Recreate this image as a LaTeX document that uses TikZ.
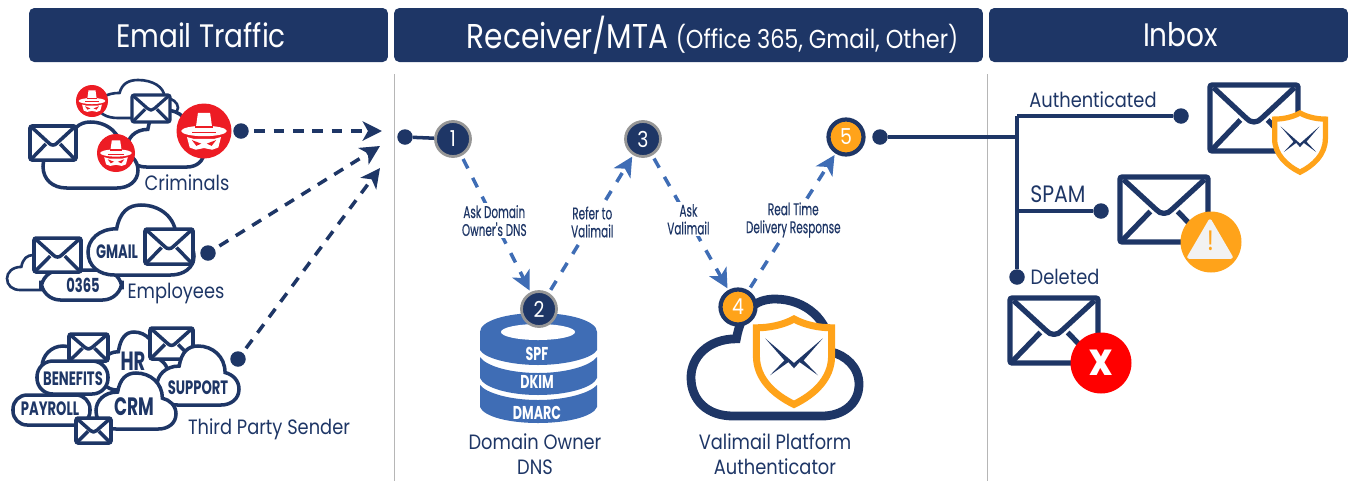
\documentclass[tikz,border=0pt]{standalone}
\usepackage{fontspec}
\setmainfont{Poppins}[FakeStretch=0.86]
\newfontfamily\tightfont{Poppins}[FakeStretch=0.68]
\newfontfamily\flowfont{Poppins}[FakeStretch=0.62,FakeBold=0.35]
\usetikzlibrary{arrows.meta}
\definecolor{Navy}{RGB}{30,54,102}
\definecolor{Flow}{RGB}{63,109,181}
\definecolor{Amber}{RGB}{255,163,26}
\definecolor{Spy}{RGB}{237,28,36}
\definecolor{Ring}{RGB}{150,150,150}
\tikzset{
  headbar/.style={fill=Navy, rounded corners=3pt, text=white, minimum height=1.08cm, inner sep=0pt, font=\fontsize{18.5}{18.5}\selectfont},
  navydot/.style={circle, fill=Navy, minimum size=0.31cm, inner sep=0pt},
  stepnum/.style={circle, fill=Navy, draw=Ring, line width=1.6pt, minimum size=0.70cm, inner sep=0pt, text=white, font=\fontsize{12.5}{12.5}\selectfont},
  stepamber/.style={stepnum, fill=Amber, draw=Navy, line width=2.4pt},
  sideline/.style={Ring!70, line width=0.8pt},
  trunk/.style={Navy, line width=2pt},
  threat/.style={Navy, line width=2pt, dash pattern=on 6pt off 5pt, shorten <=3pt, -{Stealth[length=11pt,width=11pt,inset=3pt]}},
  flowline/.style={Flow, line width=2pt, dash pattern=on 6pt off 6pt, shorten <=2pt, shorten >=1pt, -{Stealth[length=11pt,width=11pt,inset=3pt]}},
  flowlabel/.style={fill=white, text=Navy, align=center, inner sep=1pt, font=\flowfont\fontsize{9.6}{10.2}\selectfont},
  namelabel/.style={text=Navy, inner sep=0pt, font=\fontsize{11.8}{14.6}\selectfont, align=center},
  cloudtag/.style={text=Navy, inner sep=0pt, font=\tightfont\bfseries\fontsize{11}{11}\selectfont},
  disctag/.style={text=white, inner sep=0pt, font=\tightfont\bfseries\fontsize{10.6}{10.6}\selectfont},
}
\newcommand{\mailcloud}[5]{
  \pgfmathsetmacro{\cw}{#3-#1}
  \pgfmathsetmacro{\ch}{#4-#2}
  \begin{scope}[shift={(#1,#4)},xscale=\cw,yscale=-\ch]
    \draw[Navy, fill=white, line width=#5] (0.25,0) -- (0.78,0) .. controls (0.9,0) and (1,0.1) .. (1,0.27)
      .. controls (1,0.42) and (0.92,0.52) .. (0.83,0.55) .. controls (0.83,0.82) and (0.68,1) .. (0.5,1)
      .. controls (0.38,1) and (0.3,0.9) .. (0.27,0.66) .. controls (0.1,0.66) and (0,0.5) .. (0,0.33)
      .. controls (0,0.13) and (0.1,0) .. (0.25,0) -- cycle;
  \end{scope}
}
\newcommand{\mailicon}[5]{
  \pgfmathsetmacro{\mw}{#3-#1}
  \pgfmathsetmacro{\mh}{#4-#2}
  \begin{scope}[shift={(#1,#2)},xscale=\mw,yscale=\mh]
    \draw[Navy, fill=white, line width=#5, rounded corners=1.2pt] (0,0) rectangle (1,1);
    \draw[Navy, line width=#5, line join=round] (0.04,0.04) -- (0.41,0.5) .. controls (0.46,0.58) and (0.54,0.58) .. (0.59,0.5) -- (0.96,0.04);
    \draw[Navy, line width=#5] (0.03,0.97) -- (0.345,0.53) (0.97,0.97) -- (0.655,0.53);
  \end{scope}
}
\newcommand{\mailshield}[5]{
  \begin{scope}[shift={(#1,#2)},xscale=#3,yscale=#4]
    \draw[Amber, fill=white, line width=#5, line join=miter] (0,0) .. controls (0.14,0.07) and (0.32,0.1) .. (0.47,0.1)
      -- (0.47,0.42) .. controls (0.47,0.68) and (0.25,0.86) .. (0,0.97) .. controls (-0.25,0.86) and (-0.47,0.68) .. (-0.47,0.42)
      -- (-0.47,0.1) .. controls (-0.32,0.1) and (-0.14,0.07) .. (0,0) -- cycle;
    \fill[Navy] (-0.36,0.22) -- (0,0.5) -- (0.36,0.22) -- (0.12,0.47) -- (0.30,0.64) -- (0.07,0.49) -- (0,0.56)
      -- (-0.07,0.49) -- (-0.30,0.64) -- (-0.12,0.47) -- cycle;
  \end{scope}
}
\newcommand{\spyicon}[3]{
  \fill[Spy] (#1,#2) circle (#3);
  \begin{scope}[shift={(#1,#2)},scale=#3]
    \fill[white] (-0.22,-0.66) -- (0.22,-0.66) -- (0.3,-0.1) -- (-0.3,-0.1) -- cycle;
    \fill[white] (0,0) ellipse (0.83 and 0.19);
    \fill[Spy] (-0.32,-0.2) rectangle (0.32,-0.12);
    \fill[Spy] (-0.42,0.03) rectangle (0.42,0.09);
    \fill[white] (-0.62,0.22) -- (-0.36,0.29) -- (0.36,0.29) -- (0.62,0.22) -- (0.52,0.6) -- (0.3,0.68) -- (0,0.62) -- (-0.3,0.68) -- (-0.52,0.6) -- cycle;
    \fill[Spy] (-0.44,0.33) -- (-0.1,0.46) -- (-0.28,0.54) -- cycle (0.44,0.33) -- (0.1,0.46) -- (0.28,0.54) -- cycle;
  \end{scope}
}
\begin{document}
\begin{tikzpicture}[x=0.02cm,y=-0.02cm]
  \useasboundingbox (0,0) rectangle (1349,481);
  \node[headbar, minimum width=7.18cm] (hTraffic) at (208.5,35) {Email Traffic\hspace*{0.3cm}};
  \node[headbar, minimum width=11.78cm] (hReceiver) at (688.5,35) {\hspace*{0.96cm}{\fontsize{19.6}{19.6}\selectfont Receiver/MTA} {\fontsize{14.8}{14.8}\selectfont(Office 365, Gmail, Other)}};
  \node[headbar, minimum width=7.18cm] (hInbox) at (1168.5,35) {\hspace*{0.48cm}Inbox};
  \draw[sideline] (394.5,74) -- (394.5,481);
  \draw[sideline] (987.5,74) -- (987.5,481);

  \mailcloud{98}{80}{178}{118}{1.5pt}
  \mailcloud{127}{110}{204}{167}{2pt}
  \mailcloud{43}{122}{138}{188}{2pt}
  \mailicon{30}{126}{76}{160}{2pt}
  \mailicon{132}{95}{170}{122}{1.8pt}
  \spyicon{92}{101}{16}
  \spyicon{116}{153}{19}
  \spyicon{204}{131}{27.5}
  \node[namelabel] (lblCriminals) at (187,183) {Criminals};
  \node[navydot] (dotCriminals) at (241,131) {};

  \mailcloud{7}{255}{60}{290}{1.5pt}
  \draw[Navy, fill=white, line width=2pt, rounded corners=11pt] (41,270) rectangle (122,300);
  \node[cloudtag] (tag0365) at (83,285) {0365};
  \mailcloud{88}{205}{194}{275}{2pt}
  \mailicon{34}{238}{81}{272}{2pt}
  \mailicon{145}{229}{193}{264}{2pt}
  \node[cloudtag] (tagGmail) at (117,252) {GMAIL};
  \node[namelabel] (lblEmployees) at (176,294) {Employees};
  \node[navydot] (dotEmployees) at (208,253) {};

  \mailcloud{100}{332}{168}{390}{2pt}
  \draw[Navy, fill=white, line width=2pt] (63,367) circle (21);
  \draw[Navy, fill=white, line width=2pt, rounded corners=8pt] (13,395) rectangle (90,425);
  \draw[Navy, fill=white, line width=2pt, rounded corners=9pt] (37,361) rectangle (108,394);
  \mailicon{69}{334}{108}{361}{2pt}
  \mailicon{150}{328}{193}{359}{2pt}
  \mailcloud{157}{346}{239}{405}{2pt}
  \mailcloud{96}{373}{176}{429}{2pt}
  \mailicon{76}{418}{111}{443}{2pt}
  \node[cloudtag] (tagHr) at (133,361) {\fontsize{15}{15}\selectfont HR};
  \node[cloudtag] (tagBenefits) at (73,379) {BENEFITS};
  \node[cloudtag] (tagPayroll) at (50,409) {PAYROLL};
  \node[cloudtag] (tagCrm) at (134,407) {\fontsize{14.3}{14.3}\selectfont CRM};
  \node[cloudtag] (tagSupport) at (198,388) {SUPPORT};
  \node[namelabel] (lblThird) at (269,429) {Third Party Sender};
  \node[navydot] (dotThird) at (238,359) {};

  \coordinate (tipCriminals) at (382,131);
  \coordinate (tipEmployees) at (380,146);
  \coordinate (tipThird) at (380,168);
  \draw[threat] (dotCriminals) -- (tipCriminals);
  \draw[threat] (dotEmployees) -- (tipEmployees);
  \draw[threat] (dotThird) -- (tipThird);

  \fill[Flow] (480,332) -- (480,350) .. controls (484,358) and (510,365) .. (538,365) .. controls (566,365) and (593,358) .. (597,350) -- (597,332)
    .. controls (597,321) and (570,313) .. (538,313) .. controls (506,313) and (480,321) .. (480,332) -- cycle;
  \fill[white] (538,332) ellipse (37 and 8);
  \fill[Flow] (480,357) -- (480,378) .. controls (484,388) and (510,395) .. (538,395) .. controls (566,395) and (593,388) .. (597,378) -- (597,357)
    .. controls (590,366) and (566,373) .. (538,373) .. controls (510,373) and (486,366) .. (480,357) -- cycle;
  \fill[Flow] (480,385) -- (480,407) .. controls (484,417) and (510,423) .. (538,423) .. controls (566,423) and (593,417) .. (597,407) -- (597,385)
    .. controls (590,393) and (566,400) .. (538,400) .. controls (510,400) and (486,393) .. (480,385) -- cycle;
  \node[disctag] (tagSpf) at (537,354) {SPF};
  \node[disctag] (tagDkim) at (537,382) {DKIM};
  \node[disctag] (tagDmarc) at (537,413) {DMARC};
  \node[namelabel] (lblDomain) at (535,454) {Domain Owner\\DNS};

  \mailcloud{691}{299}{859}{416}{5pt}
  \mailshield{794}{319}{80}{88}{4pt}
  \node[namelabel] (lblValimail) at (775,454) {Valimail Platform\\Authenticator};

  \node[navydot] (dotStart) at (405,137) {};
  \node[stepnum] (stepOne) at (453,139) {1};
  \node[stepnum] (stepTwo) at (539,309) {2};
  \node[stepnum] (stepThree) at (643,139) {3};
  \node[stepamber] (stepFour) at (738,307) {4};
  \node[stepamber] (stepFive) at (846,137) {5};
  \node[navydot] (dotOut) at (880,137) {};
  \draw[trunk] (dotStart) -- (stepOne);
  \draw[flowline] (stepOne) -- node[flowlabel, pos=0.475] (askDomain) {Ask Domain\\Owner's DNS} (stepTwo);
  \draw[flowline] (stepTwo) -- node[flowlabel, pos=0.515] (referTo) {Refer to\\Valimail} (stepThree);
  \draw[flowline] (stepThree) -- node[flowlabel, pos=0.475] (askValimail) {Ask\\Valimail} (stepFour);
  \draw[flowline] (stepFour) -- node[flowlabel, pos=0.515] (realTime) {Real Time\\Delivery Response} (stepFive);

  \coordinate (jOut) at (1017,137);
  \coordinate (jTop) at (1017,116);
  \coordinate (jSpam) at (1017,211);
  \node[navydot] (dotAuth) at (1181,116) {};
  \node[navydot] (dotSpam) at (1101,211) {};
  \node[navydot] (dotDeleted) at (1017,277) {};
  \draw[trunk] (dotOut) -- (jOut);
  \draw[trunk] (jTop) -- (dotDeleted);
  \draw[trunk] (jTop) -- (dotAuth);
  \draw[trunk] (jSpam) -- (dotSpam);
  \node[namelabel] (lblAuth) at (1093,100) {Authenticated};
  \node[namelabel, font=\fontsize{13.5}{13.5}\selectfont] (lblSpam) at (1058,194) {SPAM};
  \node[namelabel] (lblDeleted) at (1065,277) {Deleted};

  \mailicon{1210}{85}{1298}{151}{3pt}
  \mailshield{1300}{113}{54}{61}{3pt}
  \mailicon{1120}{177}{1208}{242}{3pt}
  \node[circle, fill=Amber, minimum size=1.22cm, inner sep=0pt] (warnDisc) at (1211,242) {};
  \draw[fill=black!5, draw=black!5, line width=2pt, line join=round] (1210,221) -- (1231,257) -- (1189,257) -- cycle;
  \node[text=Amber, inner sep=0pt, font=\fontsize{16}{16}\selectfont] (warnMark) at (1210.5,241) {!};
  \mailicon{1010}{298}{1098}{363}{3pt}
  \node[circle, fill=red, minimum size=1.22cm, inner sep=0pt, text=white, font=\bfseries\fontsize{26}{26}\selectfont] (delDisc) at (1101,363) {x};
\end{tikzpicture}
\end{document}
